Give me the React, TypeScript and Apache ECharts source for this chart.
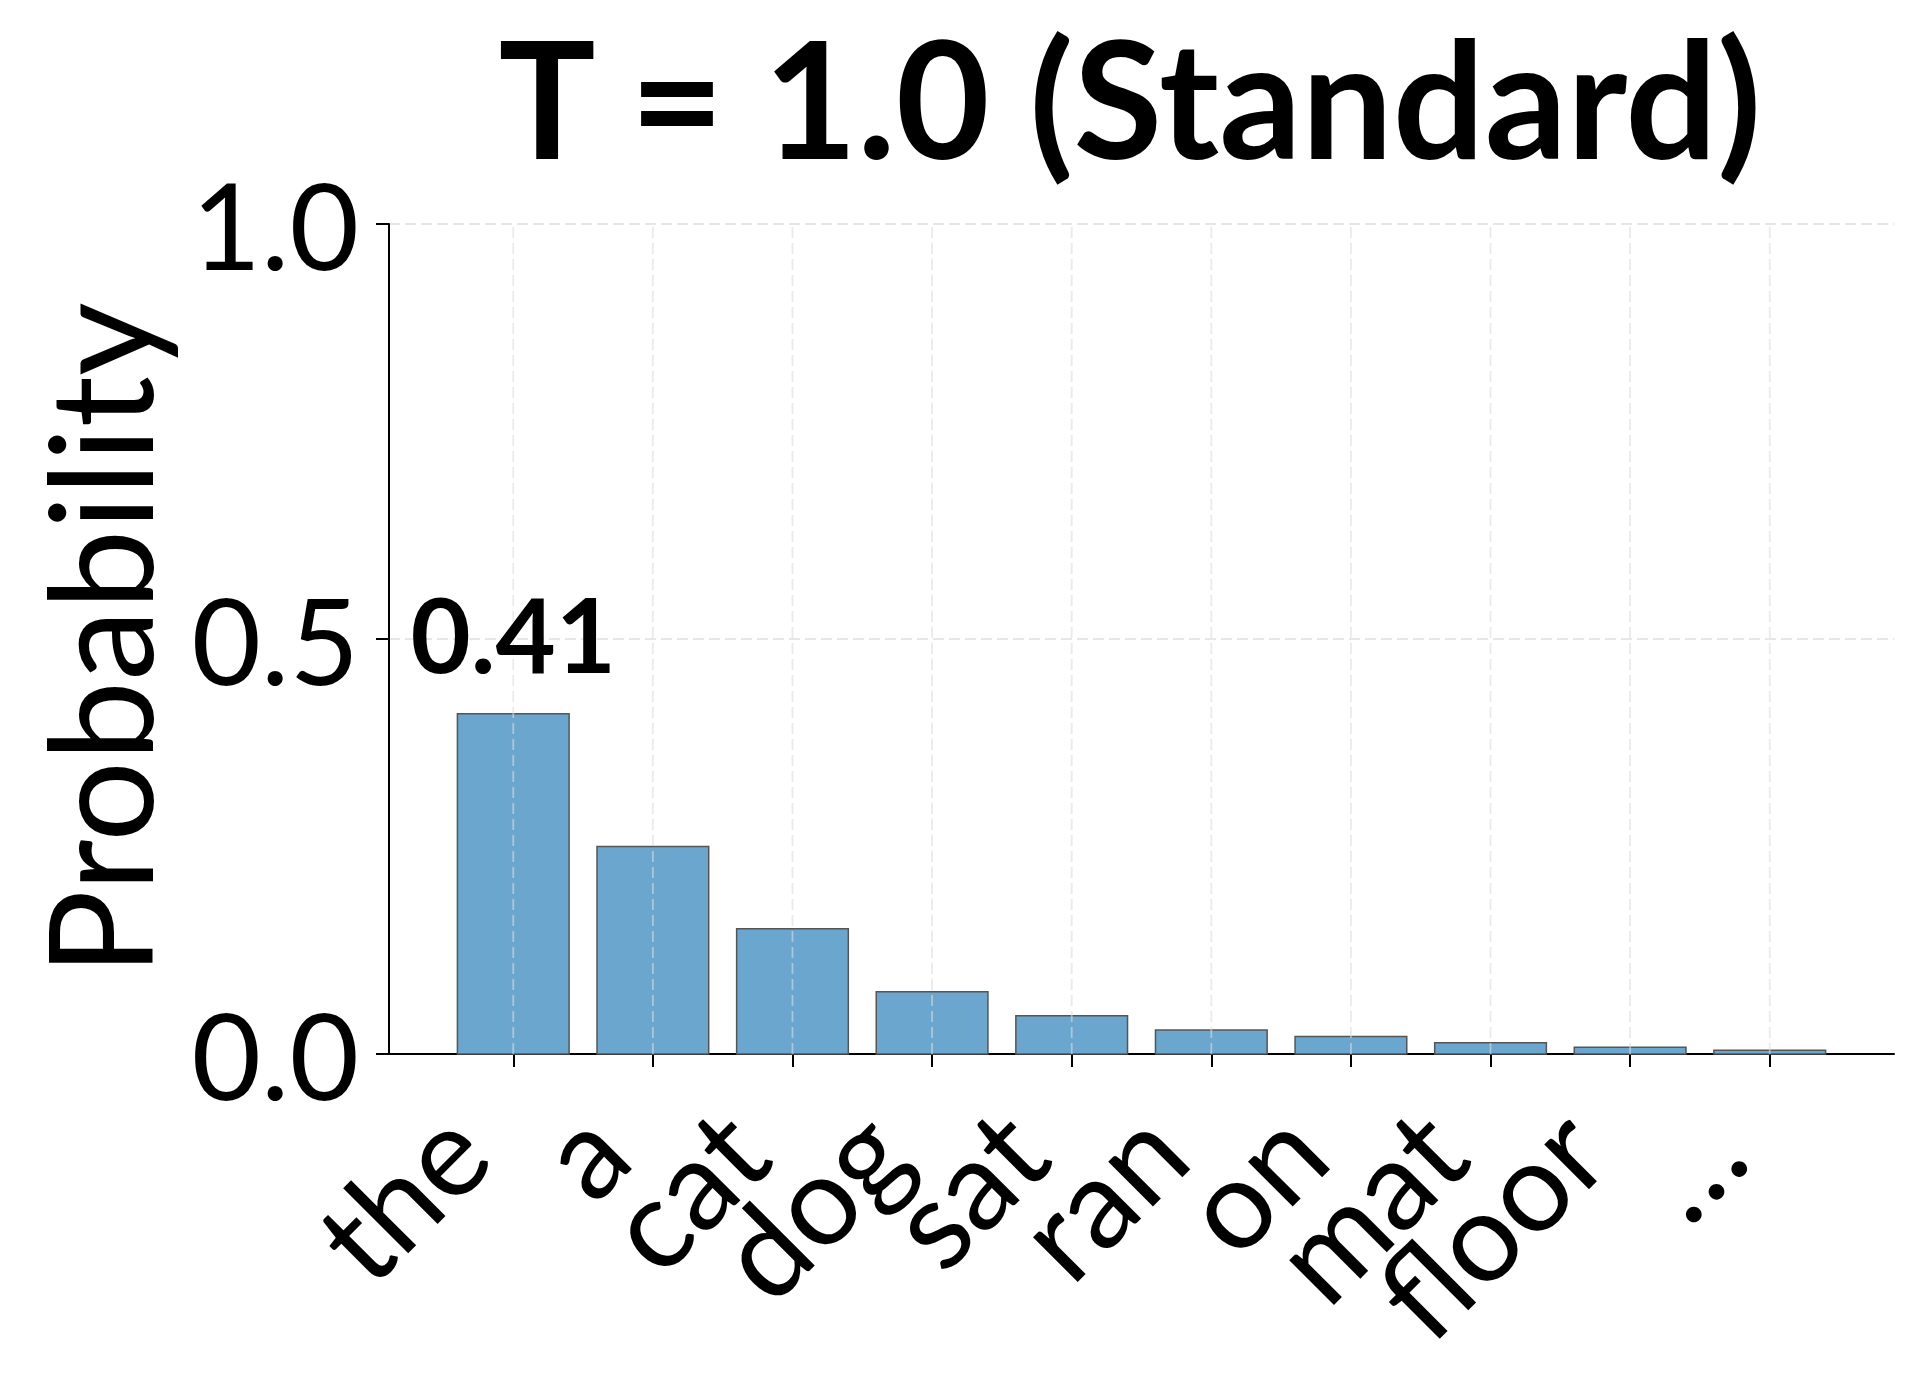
import React, { useEffect, useRef } from "react";
import * as echarts from "echarts";

const TITLE = "T = 1.0 (Standard)";
const Y_NAME = "Probability";
const TOKENS = ["the", "a", "cat", "dog", "sat", "ran", "on", "mat", "floor", "…"];
const PROBS = [0.41, 0.25, 0.151, 0.075, 0.046, 0.029, 0.021, 0.0137, 0.008, 0.0044];
const LABELED = [0];
const TICK_POS = TOKENS.map((_, i) => i);

const FONT = "Lato";
const BAR_COLOR = "#6aa6cd";
const EDGE_COLOR = "#555555";
const GRID_COLOR = "#e6e6e6";

export default function App() {
  const ref = useRef<HTMLDivElement>(null);
  useEffect(() => {
    if (!ref.current) return;
    const chart = echarts.init(ref.current, undefined, { renderer: "svg" });
    const data = PROBS.map((p, i) => [i, p]);
    chart.setOption({
      animation: false,
      backgroundColor: "#ffffff",
      title: {
        text: TITLE,
        left: 1125,
        top: 6,
        textAlign: "center",
        textStyle: { fontFamily: FONT, fontWeight: "bold", fontSize: 162, lineHeight: 170, color: "#000" },
      },
      grid: { left: 389, right: 26, top: 224, bottom: 326 },
      xAxis: {
        type: "value",
        min: -0.89,
        max: 9.89,
        axisLine: { show: true, onZero: false, lineStyle: { color: "#000", width: 2 } },
        axisTick: { show: true, customValues: TICK_POS, length: 13, lineStyle: { color: "#000", width: 2 } },
        axisLabel: {
          customValues: TICK_POS,
          formatter: (v: number) => TOKENS[Math.round(v)] ?? "",
          rotate: 45,
          align: "right",
          verticalAlign: "top",
          padding: [0, 132, 0, 0],
          margin: -62,
          fontFamily: FONT,
          fontSize: 125,
          color: "#000",
          hideOverlap: false,
        },
        splitLine: { show: false },
      },
      yAxis: {
        type: "value",
        min: 0,
        max: 1,
        interval: 0.5,
        name: Y_NAME,
        nameLocation: "middle",
        nameRotate: 90,
        nameGap: 220,
        nameTextStyle: { fontFamily: FONT, fontSize: 143, color: "#000" },
        axisLine: { show: true, onZero: false, lineStyle: { color: "#000", width: 2 } },
        axisTick: { show: true, length: 13, lineStyle: { color: "#000", width: 2 } },
        axisLabel: {
          formatter: (v: number) => v.toFixed(1),
          margin: 30,
          fontFamily: FONT,
          fontSize: 120,
          color: "#000",
        },
        splitLine: { show: true, lineStyle: { color: GRID_COLOR, width: 1.8, type: [11, 5] } },
      },
      series: [
        {
          type: "custom",
          data,
          z: 3,
          renderItem: (params: any, api: any) => {
            const i = api.value(0);
            const v = api.value(1);
            const p0 = api.coord([i - 0.4, v]);
            const p1 = api.coord([i + 0.4, 0]);
            const children: any[] = [
              {
                type: "rect",
                shape: { x: p0[0], y: p0[1], width: p1[0] - p0[0], height: p1[1] - p0[1] },
                style: { fill: BAR_COLOR, stroke: EDGE_COLOR, lineWidth: 1.5 },
              },
            ];
            const c = api.coord([i, 0]);
            const t = api.coord([i, 1]);
            children.push({
              type: "line",
              shape: { x1: c[0], y1: c[1], x2: t[0], y2: t[1] },
              style: { stroke: "rgba(220,220,220,0.6)", lineWidth: 1.8, lineDash: [11, 5] },
            });
            if (LABELED.indexOf(params.dataIndex) >= 0) {
              const top = api.coord([i, v]);
              children.push({
                type: "text",
                x: top[0],
                y: top[1] - 29,
                style: {
                  text: v.toFixed(2),
                  font: "bold 104px Lato",
                  fill: "#000",
                  textAlign: "center",
                  textVerticalAlign: "bottom",
                },
              });
            }
            return { type: "group", children };
          },
        },
      ],
    });
    return () => chart.dispose();
  }, []);
  return (
    <div
      ref={ref}
      style={{ position: "absolute", left: 0, top: 0, width: 1920, height: 1380, background: "#fff" }}
    />
  );
}
